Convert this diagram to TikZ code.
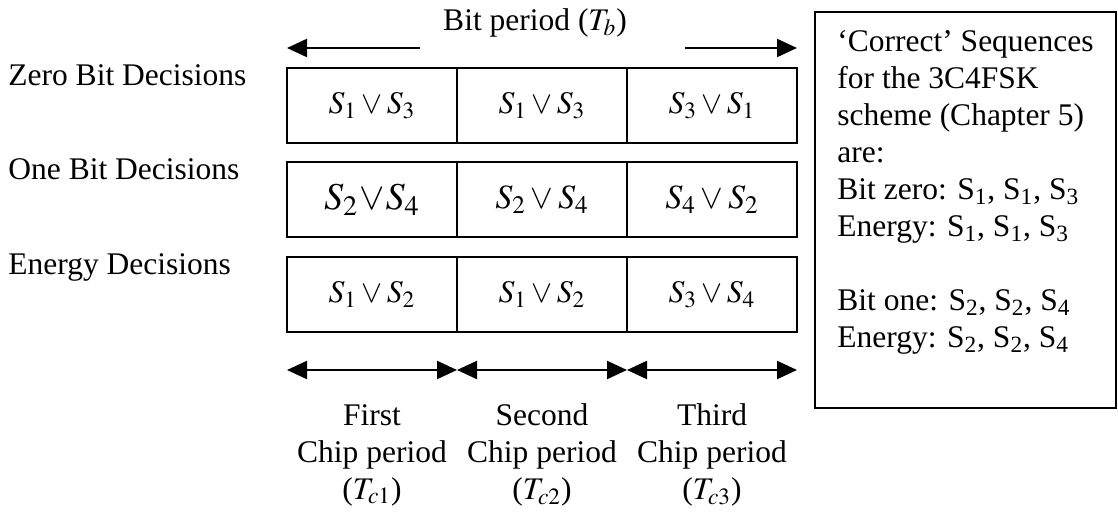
\documentclass[tikz,border=0pt]{standalone}
\usepackage{mathptmx}
\usepackage{fontspec}
\setmainfont{Liberation Serif}
\usetikzlibrary{arrows.meta, positioning}

\tikzset{
  cell/.style={draw, line width=1pt, minimum width=85pt, minimum height=37.5pt, inner sep=0pt, outer sep=0pt},
  bigcell/.style={cell, font=\fontsize{17pt}{20pt}\selectfont},
  rowlabel/.style={anchor=base west, inner sep=0pt},
  span/.style={line width=1.1pt, -{Triangle[length=10pt, width=9pt]}},
  chipspan/.style={line width=1.1pt, {Triangle[length=10pt, width=9pt]}-{Triangle[length=10pt, width=9pt]}},
  chiplabel/.style={align=center, inner sep=0pt},
  notebox/.style={draw, line width=1pt},
}

\begin{document}
\begin{tikzpicture}[x=0.5pt, y=-0.5pt, font=\fontsize{15.75pt}{18.5pt}\selectfont]
  \useasboundingbox (0,0) rectangle (1118,512);

  % decision rows, three chips each
  \node[rowlabel] (zerolab) at (8,86) {Zero Bit Decisions};
  \node[cell] (z1) at (372,105.5) {$S_1 \vee S_3$};
  \node[cell, right=0pt of z1] (z2) {$S_1 \vee S_3$};
  \node[cell, right=0pt of z2] (z3) {$S_3 \vee S_1$};

  \node[rowlabel] (onelab) at (8,180) {One Bit Decisions};
  \node[bigcell, font=\fontsize{19pt}{22pt}\selectfont] (o1) at (372,200) {$S_2 \!\vee\! S_4$};
  \node[bigcell, right=0pt of o1] (o2) {$S_2 \vee S_4$};
  \node[bigcell, right=0pt of o2] (o3) {$S_4 \vee S_2$};

  \node[rowlabel] (energylab) at (8,275) {Energy Decisions};
  \node[cell] (e1) at (372,294.5) {$S_1 \vee S_2$};
  \node[cell, right=0pt of e1] (e2) {$S_1 \vee S_2$};
  \node[cell, right=0pt of e2] (e3) {$S_3 \vee S_4$};

  % bit period across the top
  \node (tb) at (535,23) {Bit period ($T_b$)};
  \coordinate (tbleft) at (420,48);
  \coordinate (tbright) at (685,48);
  \draw[span] (tbleft) -- (z1.north west |- tbleft);
  \draw[span] (tbright) -- (z3.north east |- tbright);

  % chip periods underneath
  \foreach \c in {1,2,3}
    \draw[chipspan] ([yshift=-19pt]e\c.south west) -- ([yshift=-19pt]e\c.south east);
  \node[chiplabel] (c1) at (372,455) {First\\Chip period\\($T_{c1}$)};
  \node[chiplabel] (c2) at (542,455) {Second\\Chip period\\($T_{c2}$)};
  \node[chiplabel] (c3) at (712,455) {Third\\Chip period\\($T_{c3}$)};

  % note box
  \draw[notebox] (815,12) rectangle (1116,408);
  \foreach \y/\ln [count=\i] in {
      52/{`Correct' Sequences},
      89/{for the 3C4FSK},
      126/{scheme (Chapter 5)},
      163/{are:},
      200/{Bit zero: S\textsubscript{1}, S\textsubscript{1}, S\textsubscript{3}},
      237/{Energy: S\textsubscript{1}, S\textsubscript{1}, S\textsubscript{3}},
      311/{Bit one: S\textsubscript{2}, S\textsubscript{2}, S\textsubscript{4}},
      348/{Energy: S\textsubscript{2}, S\textsubscript{2}, S\textsubscript{4}}}
    \node[rowlabel] (note\i) at (837,\y) {\ln};
\end{tikzpicture}
\end{document}
